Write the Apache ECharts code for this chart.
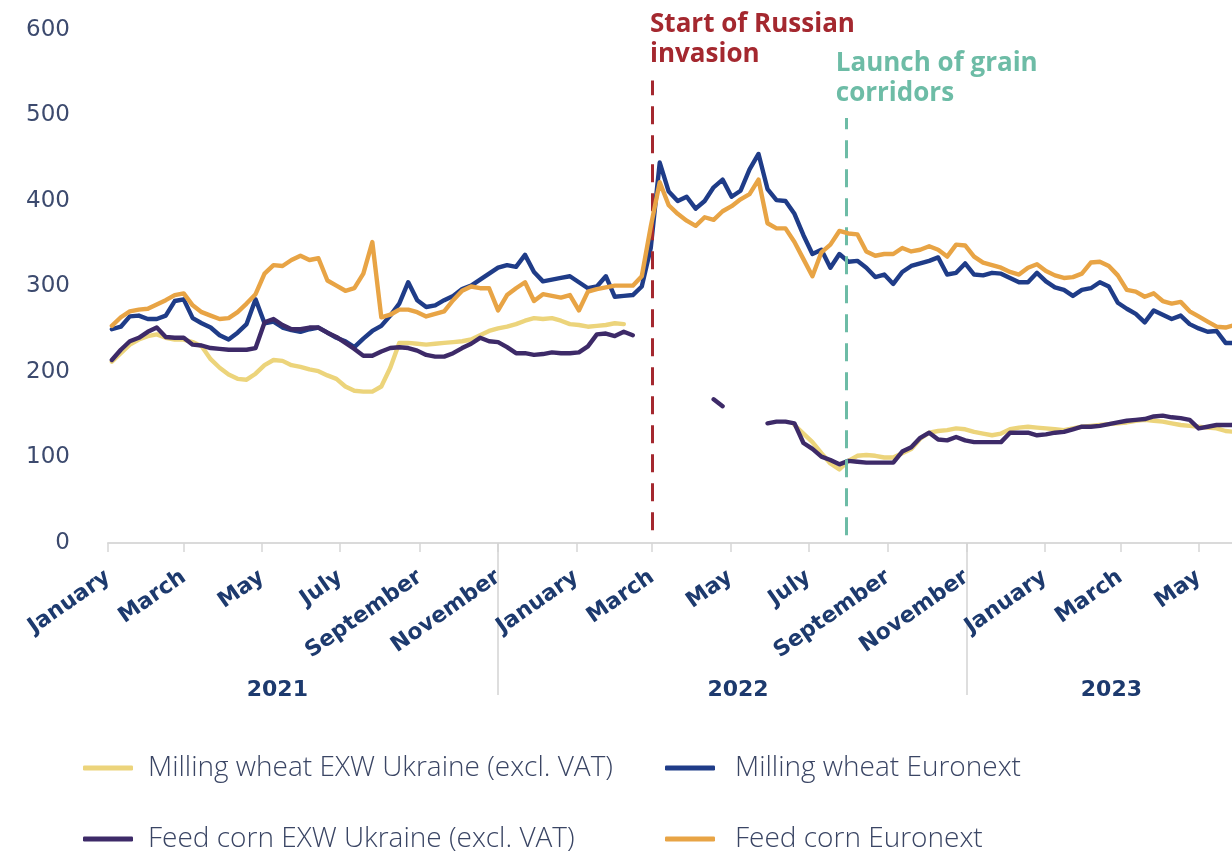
<!DOCTYPE html>
<html>
<head>
<meta charset="utf-8">
<script src="https://cdn.jsdelivr.net/npm/echarts@6/dist/echarts.min.js"></script>
<style>
  html, body { margin: 0; padding: 0; background: #ffffff; }
  #chart { width: 1232px; height: 852px; }
</style>
</head>
<body>
<div id="chart"></div>
<script>
// Weekly quotes, EUR per tonne, one value per week starting Monday 4 January 2021
const firstWeek = '2021-01-04';
const weekCount = 126;

const seriesNames = [
  'Milling wheat EXW Ukraine (excl. VAT)',
  'Milling wheat Euronext',
  'Feed corn EXW Ukraine (excl. VAT)',
  'Feed corn Euronext'
];

const millingWheatUkraine = [
  212,222,232,238,242,244,240,238,238,235,
  230,215,205,197,192,191,198,208,214,213,
  208,206,203,201,196,192,183,178,177,177,
  183,205,234,234,233,232,233,234,235,236,
  238,243,248,251,253,256,260,263,262,263,
  260,256,255,253,254,255,257,256,
  null,null,null,null,null,null,null,null,null,null,null,null,null,null,null,null,null,null,
  138,128,118,105,93,86,96,102,103,102,
  100,100,105,110,122,129,131,132,134,133,
  130,128,126,128,133,135,136,135,134,133,
  132,134,136,137,138,139,140,141,143,144,
  143,142,140,138,137,136,135,134,131,130
];

const millingWheatEuronext = [
  250,253,265,266,262,262,266,283,285,263,
  257,252,243,238,246,256,285,257,259,252,
  249,247,250,252,246,240,236,229,239,248,
  254,266,280,305,284,276,278,284,289,297,
  301,308,315,322,325,323,337,317,306,308,
  310,312,305,298,300,312,288,289,290,300,
  345,445,411,400,405,391,400,416,425,405,
  412,437,455,414,401,400,385,360,338,343,
  322,338,329,330,322,311,314,303,317,324,
  327,330,334,314,316,327,314,313,316,315,
  310,305,305,316,306,299,296,289,296,298,
  305,300,281,274,268,258,272,267,262,266,
  256,251,247,248,234,234
];

const feedCornUkraine = [
  214,226,236,240,247,252,241,240,240,232,
  231,228,227,226,226,226,228,258,262,255,
  250,250,252,252,246,241,234,227,219,219,
  224,228,229,228,225,220,218,218,222,228,
  233,240,236,235,229,222,222,220,221,223,
  222,222,223,230,244,245,242,247,243,
  null,null,null,null,null,null,null,null,
  168,160,
  null,null,null,null,
  140,142,142,140,117,110,101,
  97,92,96,95,94,94,94,94,107,112,
  123,129,121,120,124,120,118,118,118,118,
  129,129,129,126,127,129,130,133,136,136,
  137,139,141,143,144,145,148,149,147,146,
  144,134,136,138,138,138
];

const feedCornEuronext = [
  254,264,271,273,274,279,284,290,292,278,
  270,266,262,263,270,280,291,315,325,324,
  331,336,331,333,307,301,295,298,315,352,
  264,267,273,273,270,265,268,271,284,295,
  300,298,298,272,290,298,305,283,291,289,
  287,290,272,294,297,299,301,301,301,312,
  370,422,395,385,377,371,381,378,388,394,
  402,408,425,374,368,368,352,332,312,340,
  349,365,362,361,341,336,338,338,345,341,
  343,347,343,335,349,348,335,328,325,322,
  317,314,322,326,318,313,310,311,315,328,
  329,324,313,296,294,288,292,283,280,282,
  271,265,259,253,252,255
];

// Axis ticks and labels
const axisStart = '2021-01-01';
const axisEnd = '2023-05-27';
const monthTicks = ['2021-01-01','2021-03-01','2021-05-01','2021-07-01','2021-09-01','2021-11-01',
                    '2022-01-01','2022-03-01','2022-05-01','2022-07-01','2022-09-01','2022-11-01',
                    '2023-01-01','2023-03-01','2023-05-01'];
const monthLabels = ['January','March','May','July','September','November',
                     'January','March','May','July','September','November',
                     'January','March','May'];
const yearDividers = ['2021-11-01','2022-11-01'];
const yearLabelDates = ['2021-05-13','2022-05-07','2023-02-22'];
const yearLabels = ['2021','2022','2023'];

// Events
const events = [
  { date: '2022-03-01', text: 'Start of Russian\ninvasion', color: '#a4282f', from: 15, to: 541, textTop: 10, dx: -2 },
  { date: '2022-07-30', text: 'Launch of grain\ncorridors', color: '#6dbca6', from: 9, to: 497, textTop: 49, dx: -10 }
];

const colors = ['#ecd47b', '#1f3c88', '#3d2a68', '#e8a445'];

// Day number counted from the axis start (dates as plain numbers on a value axis)
const DAY = 86400000;
function dayNum(s) {
  const p = s.split('-').map(Number);
  const a = axisStart.split('-').map(Number);
  return Math.round((Date.UTC(p[0], p[1] - 1, p[2]) - Date.UTC(a[0], a[1] - 1, a[2])) / DAY);
}

const weekDays = [];
for (let i = 0; i < weekCount; i++) weekDays.push(dayNum(firstWeek) + 7 * i);

const valueSets = [millingWheatUkraine, millingWheatEuronext, feedCornUkraine, feedCornEuronext];
const monthTickDays = monthTicks.map(dayNum);
const monthNameByDay = new Map(monthTickDays.map((t, i) => [t, monthLabels[i]]));
const yearLabelDays = yearLabelDates.map(dayNum);
const yearByDay = new Map(yearLabelDays.map((t, i) => [t, yearLabels[i]]));

const chart = echarts.init(document.getElementById('chart'), null, { renderer: 'canvas' });

const series = seriesNames.map((name, k) => ({
  name: name,
  type: 'line',
  showSymbol: false,
  symbol: 'none',
  connectNulls: false,
  lineStyle: { width: 4.4, color: colors[k], cap: 'round', join: 'round' },
  itemStyle: { color: colors[k] },
  data: weekDays.map((t, i) => [t, valueSets[k][i]]),
  z: 2 + k
}));

series[0].markLine = {
  silent: true,
  symbol: ['none', 'none'],
  label: { show: false },
  animation: false,
  data: events.map(e => [
    { coord: [dayNum(e.date), e.from], lineStyle: { color: e.color, width: 3, type: [18, 11] } },
    { coord: [dayNum(e.date), e.to] }
  ])
};

// One legend block per entry, laid out as two columns of two rows
const legendSlots = [
  { name: seriesNames[0], left: 83, top: 752, pad: 10 },
  { name: seriesNames[1], left: 665, top: 752, pad: 15 },
  { name: seriesNames[2], left: 83, top: 823, pad: 10 },
  { name: seriesNames[3], left: 665, top: 823, pad: 15 }
];

chart.setOption({
  animation: false,
  backgroundColor: '#ffffff',
  textStyle: { fontFamily: 'Open Sans' },
  grid: { left: 108, right: 0, top: 30, bottom: 309, containLabel: false },
  legend: legendSlots.map(s => ({
    data: [s.name],
    left: s.left, top: s.top, padding: 0,
    itemWidth: 50, itemHeight: 5, icon: 'roundRect',
    textStyle: {
      fontFamily: 'Open Sans', fontWeight: 300, fontSize: 28,
      color: '#3a4564', lineHeight: 32, padding: [0, 0, 0, s.pad]
    }
  })),
  xAxis: [
    {
      type: 'value',
      min: 0, max: dayNum(axisEnd),
      axisLine: { show: true, lineStyle: { color: '#dadada', width: 2 } },
      axisTick: { show: true, customValues: monthTickDays, length: 9, lineStyle: { color: '#d6d6d6', width: 1.5 } },
      axisLabel: {
        customValues: monthTickDays,
        formatter: v => monthNameByDay.get(v) || '',
        rotate: 35, margin: 32,
        color: '#1d3a6e', fontSize: 22, fontWeight: 'bold', fontFamily: 'DejaVu Sans',
        hideOverlap: false
      },
      splitLine: { show: false }
    },
    {
      type: 'value',
      position: 'bottom', offset: 0,
      min: 0, max: dayNum(axisEnd),
      axisLine: { show: false },
      axisTick: { show: true, customValues: yearDividers.map(dayNum), length: 152, lineStyle: { color: '#d4d4d4', width: 1.5 } },
      axisLabel: {
        customValues: yearLabelDays,
        formatter: v => yearByDay.get(v) || '',
        margin: 136,
        color: '#1d3a6e', fontSize: 22, fontWeight: 'bold', fontFamily: 'DejaVu Sans',
        hideOverlap: false
      },
      splitLine: { show: false }
    }
  ],
  yAxis: {
    type: 'value',
    min: 0, max: 600, interval: 100,
    axisLine: { show: false },
    axisTick: { show: false },
    splitLine: { show: false },
    axisLabel: {
      margin: 38,
      color: '#3c4a6e', fontSize: 23, fontFamily: 'DejaVu Sans'
    }
  },
  series: series
});

// Event captions sit at the top, left-aligned near each event's date
chart.setOption({
  graphic: events.map(e => ({
    type: 'text',
    x: chart.convertToPixel({ xAxisIndex: 0 }, dayNum(e.date)) + e.dx,
    y: e.textTop,
    silent: true,
    style: {
      text: e.text,
      fill: e.color,
      font: 'bold 26px "Open Sans"',
      lineHeight: 30,
      textAlign: 'left',
      textVerticalAlign: 'top'
    }
  }))
});
</script>
</body>
</html>
